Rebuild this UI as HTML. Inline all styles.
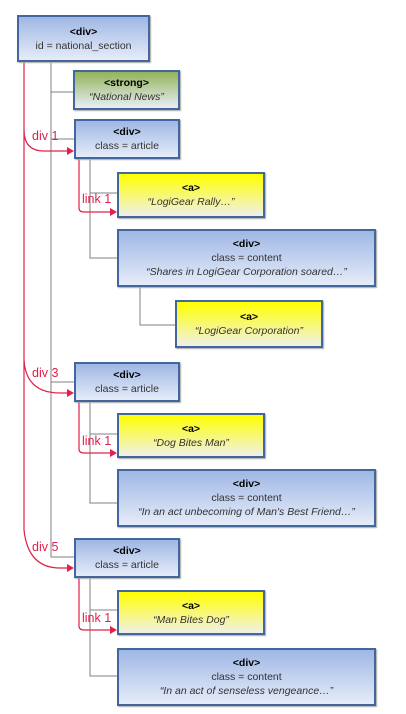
<!DOCTYPE html>
<html><head><meta charset="utf-8"><style>
html,body{margin:0;padding:0;background:#fff;width:406px;height:714px;overflow:hidden}
.b{position:absolute;box-sizing:border-box;border:2.5px solid #41679e;font-family:"Liberation Sans",sans-serif;font-size:10.5px;color:#333;text-align:center;display:flex;flex-direction:column;justify-content:center;line-height:14px;box-shadow:1px 1px 1px #aaa}
.d{background:linear-gradient(#9fb7e4,#e6ecf9)}
.g{background:linear-gradient(#93b35a,#e9eef6)}
.y{background:linear-gradient(#ffff00,#f0f0e8)}
.t{font-weight:bold;color:#000}
i{color:#333}
.r{position:absolute;font-family:"Liberation Sans",sans-serif;font-size:12.5px;color:#e0204a}
svg{position:absolute;left:0;top:0}
</style></head><body>
<svg width="406" height="714">
<g stroke="#808080" stroke-width="1" fill="none">
<path d="M51 61V557H74M51 92H73M51 139H74M51 382H74"/>
<path d="M90 158V258H117M90 193H117"/>
<path d="M140 286V325H175"/>
<path d="M90 402V503H117M90 434H117"/>
<path d="M90 578V676H117M90 610H117"/>
</g>
<g stroke="#e0204a" stroke-width="1.2" fill="none">
<path d="M24 61V130Q24 151 44 151H68"/>
<path d="M24 130V360Q26 393 60 393H68"/>
<path d="M24 360V530Q28 568 60 568H68"/>
<path d="M79 158V208Q79 212 84 212H111"/>
<path d="M79 402V449Q79 453 84 453H111"/>
<path d="M79 578V626Q79 630 84 630H111"/>
</g>
<g fill="#e0204a">
<path d="M74 151l-7-4v8z"/><path d="M74 393l-7-4v8z"/><path d="M74 568l-7-4v8z"/>
<path d="M117 212l-7-4v8z"/><path d="M117 453l-7-4v8z"/><path d="M117 630l-7-4v8z"/>
</g>
</svg>
<div class="r" style="left:32px;top:129px">div 1</div>
<div class="r" style="left:32px;top:366px">div 3</div>
<div class="r" style="left:32px;top:540px">div 5</div>
<div class="r" style="left:82px;top:192px">link 1</div>
<div class="r" style="left:82px;top:434px">link 1</div>
<div class="r" style="left:82px;top:611px">link 1</div>

<div class="b d" style="left:17px;top:15px;width:133px;height:47px"><span class="t">&lt;div&gt;</span>id = national_section</div>
<div class="b g" style="left:73px;top:70px;width:107px;height:40px"><span class="t">&lt;strong&gt;</span><i>“National News”</i></div>
<div class="b d" style="left:74px;top:119px;width:106px;height:40px"><span class="t">&lt;div&gt;</span>class = article</div>
<div class="b y" style="left:117px;top:172px;width:148px;height:46px"><span class="t">&lt;a&gt;</span><i>“LogiGear Rally…”</i></div>
<div class="b d" style="left:117px;top:229px;width:259px;height:58px"><span class="t">&lt;div&gt;</span>class = content<i>“Shares in LogiGear Corporation soared…”</i></div>
<div class="b y" style="left:175px;top:300px;width:148px;height:48px"><span class="t">&lt;a&gt;</span><i>“LogiGear Corporation”</i></div>
<div class="b d" style="left:74px;top:362px;width:106px;height:40px"><span class="t">&lt;div&gt;</span>class = article</div>
<div class="b y" style="left:117px;top:413px;width:148px;height:45px"><span class="t">&lt;a&gt;</span><i>“Dog Bites Man”</i></div>
<div class="b d" style="left:117px;top:469px;width:259px;height:58px"><span class="t">&lt;div&gt;</span>class = content<i>“In an act unbecoming of Man's Best Friend…”</i></div>
<div class="b d" style="left:74px;top:538px;width:106px;height:40px"><span class="t">&lt;div&gt;</span>class = article</div>
<div class="b y" style="left:117px;top:590px;width:148px;height:45px"><span class="t">&lt;a&gt;</span><i>“Man Bites Dog”</i></div>
<div class="b d" style="left:117px;top:648px;width:259px;height:58px"><span class="t">&lt;div&gt;</span>class = content<i>“In an act of senseless vengeance…”</i></div>
</body></html>
